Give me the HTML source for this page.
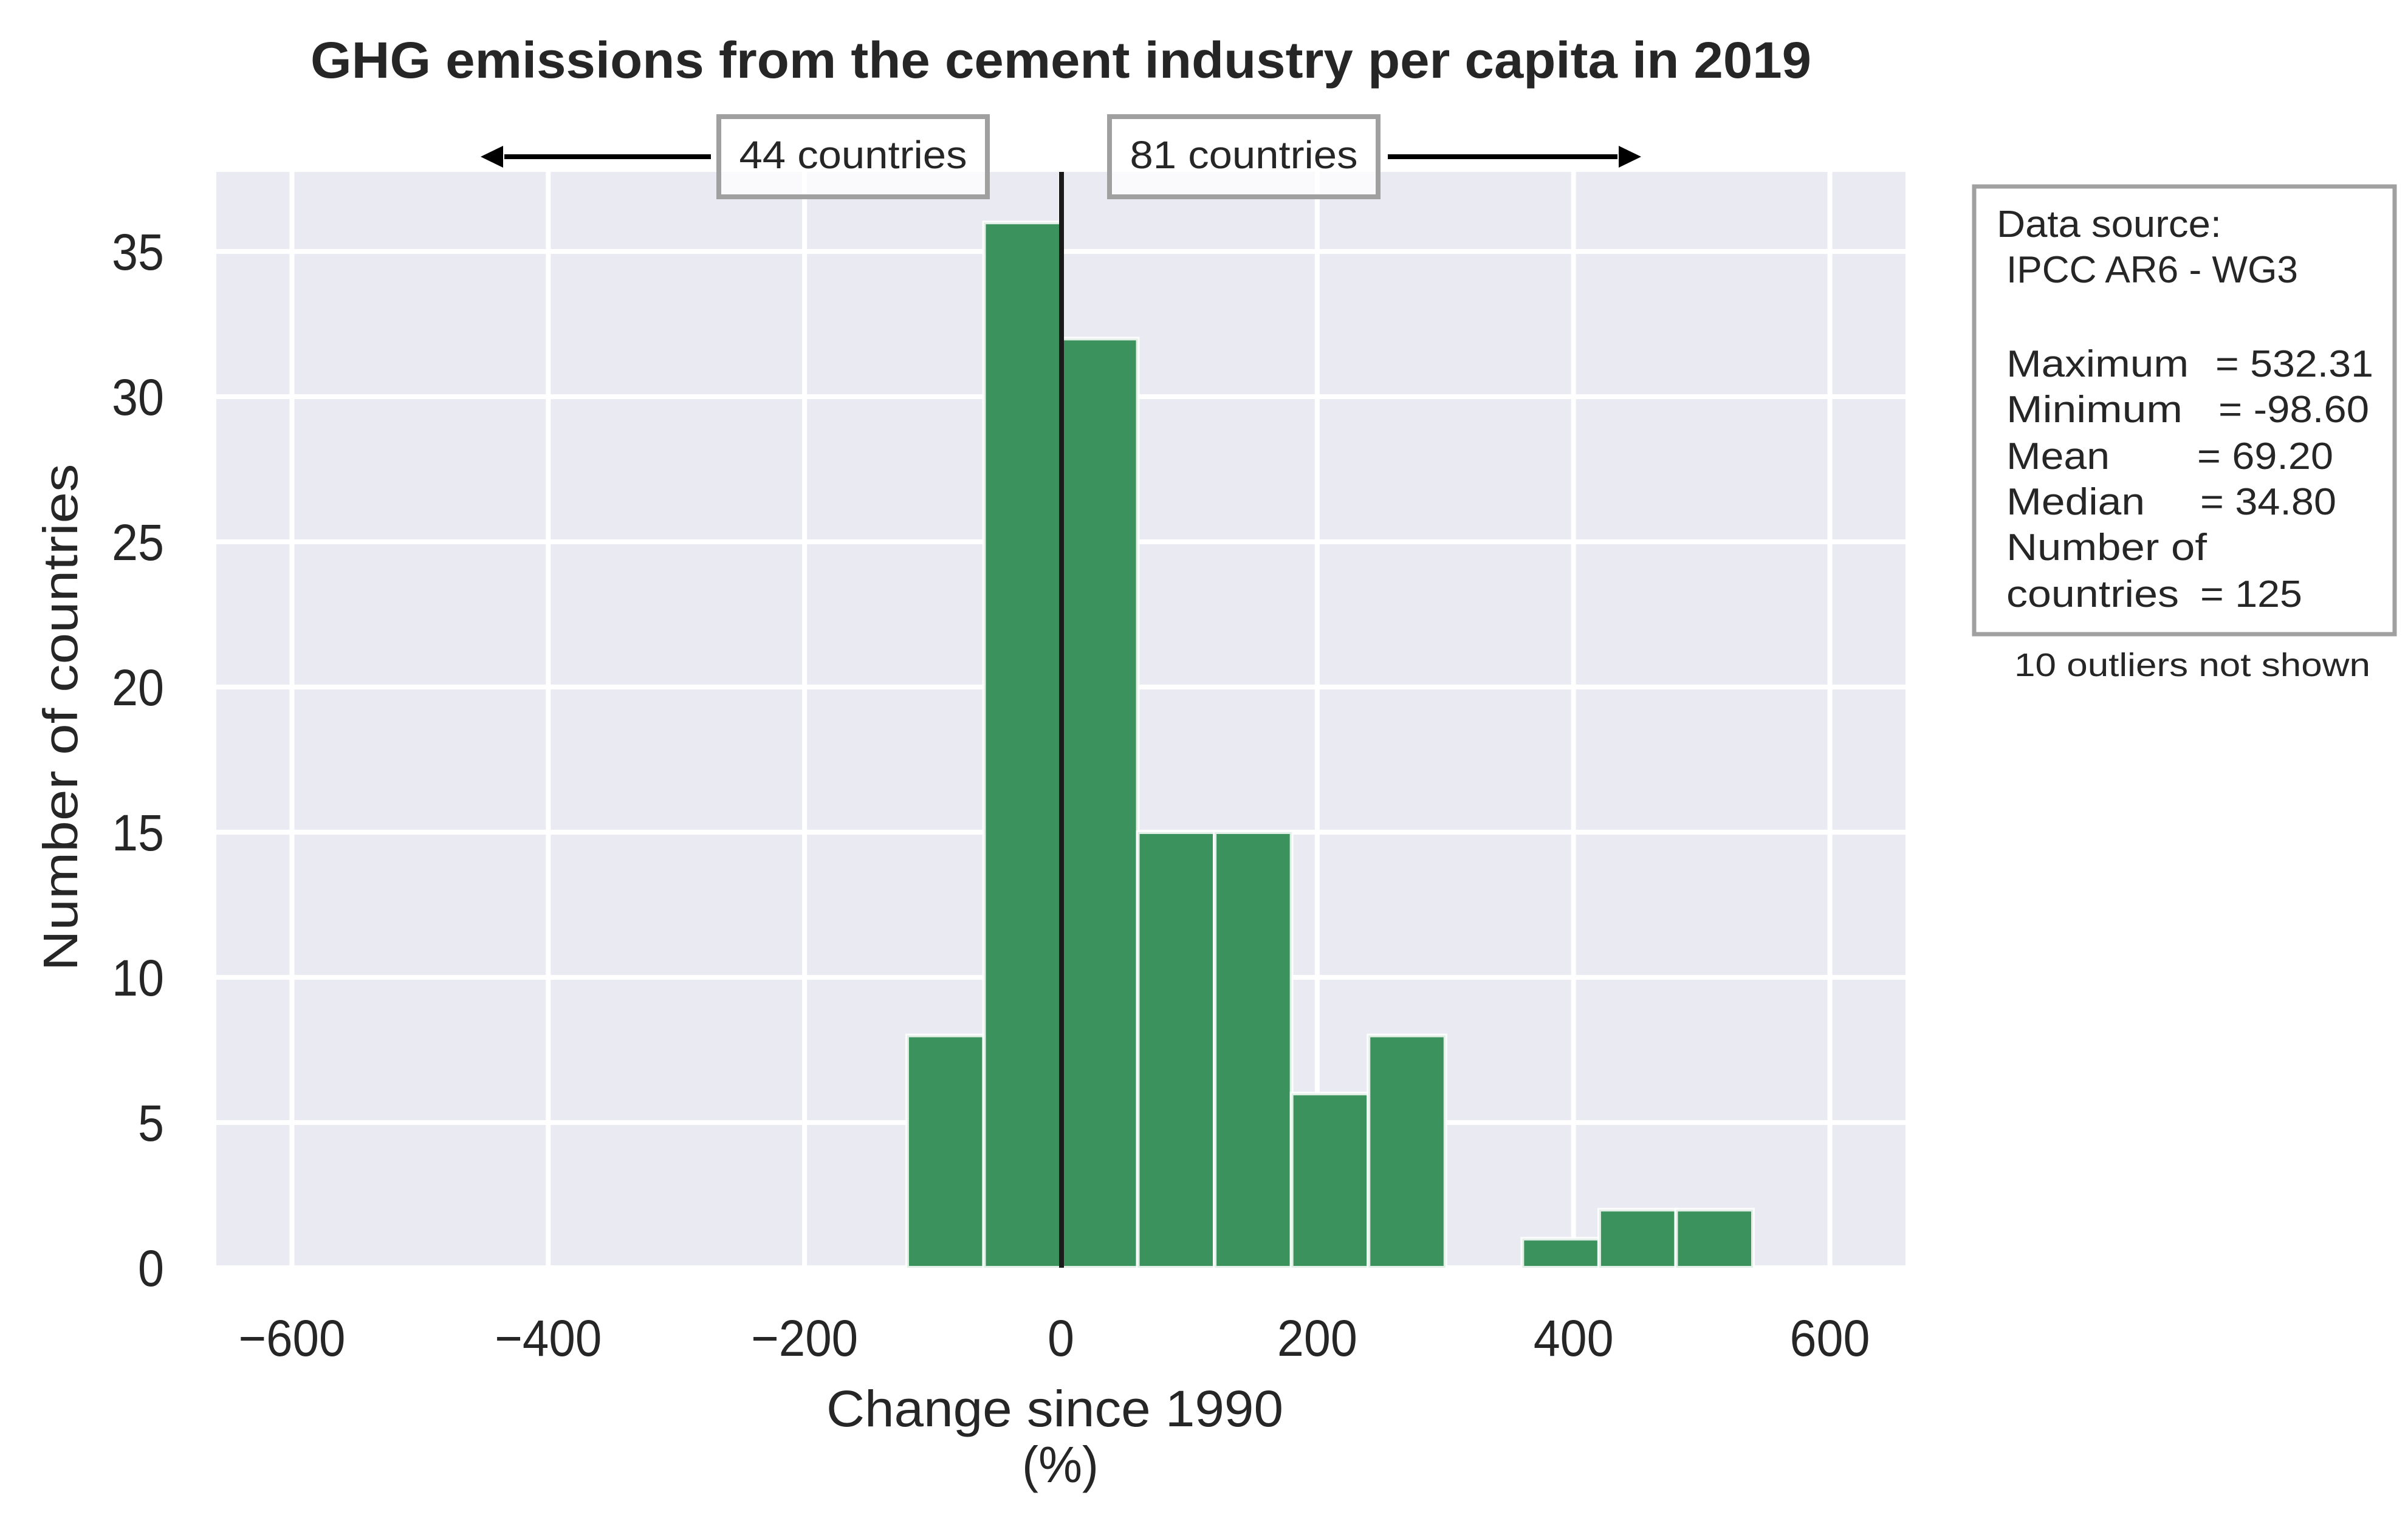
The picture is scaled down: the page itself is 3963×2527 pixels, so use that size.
<!DOCTYPE html>
<html><head><meta charset="utf-8"><style>
html,body{margin:0;padding:0;background:#fff}
svg{display:block}
text{font-family:"Liberation Sans",sans-serif;fill:#262626}
</style></head><body>
<svg id="chart" width="3963" height="2527" viewBox="0 0 3963 2527" xmlns="http://www.w3.org/2000/svg">
<rect x="0" y="0" width="3963" height="2527" fill="#ffffff"/>
<text x="1746" y="128" text-anchor="middle" font-size="84" font-weight="bold" textLength="2470" lengthAdjust="spacingAndGlyphs">GHG emissions from the cement industry per capita in 2019</text>
<rect x="356" y="283" width="2780" height="1804" fill="#eaeaf2"/>
<g id="grid"></g>
<g id="bars"></g>
<line x1="1747" y1="283" x2="1747" y2="2087" stroke="#1a1a1a" stroke-width="8"/>
<g id="xticks"></g>
<g id="yticks"></g>
<text transform="translate(127,1181) rotate(-90)" text-anchor="middle" font-size="80" textLength="835" lengthAdjust="spacingAndGlyphs">Number of countries</text>
<text x="1736" y="2348" text-anchor="middle" font-size="84" textLength="752" lengthAdjust="spacingAndGlyphs">Change since 1990</text>
<text x="1745" y="2440" text-anchor="middle" font-size="84" textLength="126" lengthAdjust="spacingAndGlyphs">(%)</text>
<!-- annotations -->
<line x1="1170" y1="258" x2="830" y2="258" stroke="#000" stroke-width="8"/>
<polygon points="791,258 828,240 828,276" fill="#000"/>
<line x1="2284" y1="258" x2="2662" y2="258" stroke="#000" stroke-width="8"/>
<polygon points="2701,258 2664,240 2664,276" fill="#000"/>
<rect x="1183" y="192" width="442" height="132" fill="#ffffff" fill-opacity="0.75" stroke="#a0a0a0" stroke-width="8"/>
<text x="1404" y="277" text-anchor="middle" font-size="64" fill="#000" textLength="375" lengthAdjust="spacingAndGlyphs">44 countries</text>
<rect x="1826" y="192" width="442" height="132" fill="#ffffff" fill-opacity="0.75" stroke="#a0a0a0" stroke-width="8"/>
<text x="2047" y="277" text-anchor="middle" font-size="64" fill="#000" textLength="375" lengthAdjust="spacingAndGlyphs">81 countries</text>
<!-- stats box -->
<rect x="3249" y="307" width="692" height="737" fill="#fff" stroke="#a0a0a0" stroke-width="7"/>
<g font-size="62">
<text x="3286" y="390" fill="#000" textLength="370" lengthAdjust="spacingAndGlyphs">Data source:</text>
<text x="3302" y="465" fill="#000" textLength="480" lengthAdjust="spacingAndGlyphs">IPCC AR6 - WG3</text>
<text x="3302" y="620" fill="#000" textLength="300" lengthAdjust="spacingAndGlyphs">Maximum</text>
<text x="3646" y="620" fill="#000" textLength="260" lengthAdjust="spacingAndGlyphs">= 532.31</text>
<text x="3302" y="695" fill="#000" textLength="290" lengthAdjust="spacingAndGlyphs">Minimum</text>
<text x="3651" y="695" fill="#000" textLength="248" lengthAdjust="spacingAndGlyphs">= -98.60</text>
<text x="3302" y="772" fill="#000" textLength="170" lengthAdjust="spacingAndGlyphs">Mean</text>
<text x="3616" y="772" fill="#000" textLength="224" lengthAdjust="spacingAndGlyphs">= 69.20</text>
<text x="3302" y="847" fill="#000" textLength="228" lengthAdjust="spacingAndGlyphs">Median</text>
<text x="3621" y="847" fill="#000" textLength="224" lengthAdjust="spacingAndGlyphs">= 34.80</text>
<text x="3302" y="922" fill="#000" textLength="330" lengthAdjust="spacingAndGlyphs">Number of</text>
<text x="3302" y="999" fill="#000" textLength="284" lengthAdjust="spacingAndGlyphs">countries</text>
<text x="3621" y="999" fill="#000" textLength="168" lengthAdjust="spacingAndGlyphs">= 125</text>
</g>
<text x="3315" y="1113" font-size="54" fill="#000" textLength="586" lengthAdjust="spacingAndGlyphs">10 outliers not shown</text>
</svg>
<script>
const binEdges = [-120, -60, 0, 60, 120, 180, 240, 300, 360, 420, 480, 540];
const counts = [8, 36, 32, 15, 15, 6, 8, 0, 1, 2, 2];
const xTicks = [-600, -400, -200, 0, 200, 400, 600];
const xTickLabels = ["\u2212600", "\u2212400", "\u2212200", "0", "200", "400", "600"];
const yTicks = [0, 5, 10, 15, 20, 25, 30, 35];
const yTickLabels = ["0", "5", "10", "15", "20", "25", "30", "35"];

const NS = "http://www.w3.org/2000/svg";
const PL = 356, PR = 3136, PT = 283, PB = 2087;
const X0 = -659, X1 = 659, Y0 = 0, Y1 = 37.74;
function xs(v){ return PL + (v - X0) / (X1 - X0) * (PR - PL); }
function ys(v){ return PB - (v - Y0) / (Y1 - Y0) * (PB - PT); }
function mk(tag, attrs){ const e = document.createElementNS(NS, tag); for (const k in attrs) e.setAttribute(k, attrs[k]); return e; }

const grid = document.getElementById("grid");
xTicks.forEach(function(t){
  const l = mk("line", {x1: xs(t), x2: xs(t), y1: PT, y2: PB, stroke: "#fff", "stroke-width": 8});
  
  
  grid.appendChild(l);
});
yTicks.forEach(function(t){
  const l = mk("line", {x1: PL, x2: PR, y1: ys(t), y2: ys(t), stroke: "#fff", "stroke-width": 8});
  
  
  grid.appendChild(l);
});

const bars = document.getElementById("bars");
counts.forEach(function(c, i){
  if (c <= 0) return;
  const x = xs(binEdges[i]), w = xs(binEdges[i+1]) - x, y = ys(c), h = ys(0) - y;
  const r = mk("rect", {x: x, y: y, width: w, height: h, fill: "#3b925c", stroke: "#ffffff", "stroke-width": 6, "stroke-opacity": 0.85});
  
  
  bars.appendChild(r);
});

const xt = document.getElementById("xticks");
xTicks.forEach(function(t, i){
  const s = xTickLabels[i];
  const tx = mk("text", {x: xs(t), y: 2232, "text-anchor": "middle", "font-size": 84, textLength: 44 * s.length, lengthAdjust: "spacingAndGlyphs"});
  tx.textContent = s;
  
  
  xt.appendChild(tx);
});
const yt = document.getElementById("yticks");
yTicks.forEach(function(t, i){
  const s = yTickLabels[i];
  const tx = mk("text", {x: 270, y: ys(t) + 30, "text-anchor": "end", "font-size": 84, textLength: 43 * s.length, lengthAdjust: "spacingAndGlyphs"});
  tx.textContent = s;
  
  
  yt.appendChild(tx);
});
</script>
</body></html>
